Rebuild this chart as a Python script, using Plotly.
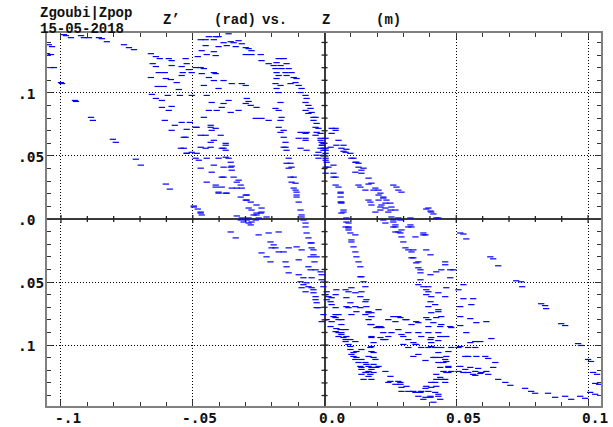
import numpy as np
import plotly.graph_objects as go

# ---- data: (Z [mm], Z' [mrad]) ----
outer_left = [(-104.6,138.2),(-103.4,136.7),(-105.3,131.1),(-103.8,130.4),(-103.8,120.1),(-102.7,120.1),(-100,108.2),(-99.6,107.4),(-98.9,146.2),(-98.1,145.4),(-96.2,143.8),(-92.4,145.4),(-91.3,143.8),(-89.4,143.8),(-85.6,143.8),(-84.5,143),(-82.6,140.6),(-76.1,138.2),(-74.2,135.9),(-72.3,134.3),(-65.9,131.1),(-64,128.8),(-62.5,127.2),(-59.1,127.2),(-58,125.6),(-94.7,94),(-94.3,93.2),(-88.6,80.6),(-87.9,78.2),(-80.3,63.2),(-79.2,60.8),(-71.6,47.4),(-69.7,42.7),(-60.2,27.7),(-58.7,23.7),(-49.6,10.3),(-48.1,7.9)]

upper_left_band = [(-65.2,123.2),(-64,120.9),(-62.9,116.1),(-60.6,116.1),(-58.3,110.6),(-60.2,111.4),(-65.9,112.2),(-63.3,105.1),(-61,105.1),(-56.1,108.2),(-55.3,102.7),(-54.2,120.9),(-53.8,116.1),(-54.2,113.8),(-52.3,123.2),(-51.5,118.5),(-50.4,116.1),(-48.9,120.1),(-48.1,128.8),(-52.7,127.2),(-58,121.7),(-65.5,98.8),(-64,95.6),(-61.7,94),(-59.5,98),(-54.9,98),(-50.4,98),(-58,89.3),(-59.1,86.1),(-61.7,88.5),(-60.6,78.2),(-56.8,74.3),(-58,70.3),(-54.2,76.6),(-52.3,71.1),(-51.1,76.6),(-53.4,64.8),(-48.9,72.7),(-54.5,56.1),(-52.3,52.1),(-50.4,52.9),(-48.9,48.2)]

top_arc = [(-43.9,144.6),(-41.3,144.6),(-40.2,144.6),(-36.4,146.9),(-47,142.2),(-45.1,142.2),(-42,142.2),(-38.3,139.8),(-35.6,140.6),(-34.5,139.8),(-32.6,141.4),(-31.4,139),(-45.1,137.5),(-40.2,136.7),(-37.1,137.5),(-33.7,136.7),(-29.9,135.9),(-28.8,135.1),(-27.7,133.5),(-46.6,133.5),(-42,132.7),(-44.7,130.4),(-41.3,129.6),(-29.9,130.4),(-27.7,130.4),(-24.2,130.4),(-23.9,125.6),(-21.2,123.2),(-17.4,127.2),(-15.5,127.2),(-18.2,124),(-19.3,121.7),(-16.7,121.7),(-14.4,123.2),(-18.6,119.3),(-16.3,119.3),(-13.6,119.3),(-18.2,116.1),(-14.8,116.1),(-12.5,116.1),(-17.4,113.8),(-14.4,113.8),(-11.7,112.2),(-10.6,111.4),(-18.2,111.4),(-18.6,107.4),(-16.7,105.9),(-12.9,107.4),(-11,108.2),(-18.2,103.5),(-17.4,100.3),(-9.8,105.9),(-8.7,103.5),(-9.1,100.3),(-7.2,98),(-6.8,95.6),(-7.2,92.4),(-6.1,90.1),(-5.3,87.7),(-4.9,84.5),(-3.4,80.6),(-4.2,78.2),(-3,75.8),(-2.3,71.9),(-1.5,67.9),(-1.5,64),(-1.1,60.8),(-0.8,58.5),(-0.4,54.5),(-1.5,56.1),(-3,50.6)]

upper_middle = [(-47,120.1),(-45.8,119.3),(-46.6,115.3),(-42,116.1),(-43.9,112.2),(-41.3,115.3),(-45.8,105.9),(-42,109.8),(-38.3,109.8),(-35.2,107.4),(-31.4,107.4),(-29.9,105.9),(-40.2,103.5),(-44.7,98),(-42.8,92.4),(-38.3,91.6),(-36.4,94),(-29.5,95.6),(-28.8,93.2),(-28,90.1),(-25.8,88.5),(-43.9,86.1),(-40.9,86.1),(-39,88.5),(-35.6,84.5),(-32.6,86.1),(-45.8,80.6),(-43.2,74.3),(-41.3,71.9),(-42.8,70.3),(-39.4,66.4),(-45.1,66.4),(-42,62.4),(-37.5,58.5),(-43.2,56.9),(-38.3,56.1),(-47,56.9),(-26.1,79.8),(-23.9,79.8),(-21.2,78.2),(-16.7,78.2),(-17.4,72.7),(-15.5,70.3),(-15.5,64.8),(-14.8,60.8),(-14.8,56.9),(-9.8,64),(-7.2,64),(-7.2,67.9),(-3.4,66.4),(-9.1,68.7),(-29.9,91.6),(-16.7,92.4),(-17.4,86.1),(-16.3,80.6),(-18.6,87.7),(-7.2,86.1),(-6.1,83.7),(-4.2,80.6)]

middle_left = [(-52.7,64.8),(-48.5,72.7),(-43.2,72.7),(-47,66.4),(-43.2,60.8),(-53.4,56.1),(-45.1,56.1),(-39,56.1),(-37.5,60),(-37.5,54.5),(-52.3,52.1),(-48.5,52.1),(-44.7,48.2),(-40.2,48.2),(-36.4,48.2),(-47.7,46.6),(-42,42.7),(-38.3,41.1),(-35.6,41.1),(-35.2,38.7),(-47,40.3),(-42.8,37.1),(-39,33.2),(-34.5,33.2),(-44.7,29.2),(-33.3,29.2),(-32.6,30.8),(-41.3,25.3),(-39,25.3),(-35.2,24.5),(-31.4,24.5),(-40.2,21.3),(-37.5,20.5),(-29.5,19),(-31.8,17.4),(-29.9,15),(-27.7,7.1),(-24.2,4.7),(-25,0.8),(-26.1,-0.8),(-29.5,-0.8),(-31.8,-0.8),(-33.3,2.4),(-49.6,9.5),(-47,4.7),(-46.6,3.2),(-37.5,49),(-35.6,45),(-35.2,41.9),(-38.3,33.2),(-31.8,26.9),(-33.3,24.5),(-41.3,26.9),(-40.2,20.5),(-37.1,20.5),(-29.9,19),(-29.5,15),(-28,13.4),(-28.8,8.7),(-25.8,11.1),(-23.9,8.7),(-25.8,3.2),(-27.7,-2.4),(-31.4,0.8),(-28.8,-3.2),(-47,5.5)]

steep_line = [(-14.4,44.2),(-13.6,40.3),(-12.9,33.2),(-12.5,29.2),(-11.7,24.5),(-10.6,21.3),(-10.6,17.4),(-9.8,13.4),(-9.1,7.1),(-8.7,1.6),(-7.2,-3.2),(-7.2,-6.3),(-16.7,68.7),(-15.5,56.9),(-14.4,54.5),(-13.6,48.2),(-12.9,44.2),(-12.5,41.1),(-11.7,33.2),(-11,28.4),(-11,22.9),(-10.6,19),(-8.7,3.2),(-8,-0.8),(-6.8,68.7),(-7.2,62.4),(-9.1,56.1),(-6.8,54.5),(-3.4,72.7),(-3,68.7),(-1.5,62.4),(-1.1,58.5),(-0.4,56.1),(-2.3,52.9),(-0.4,50.6)]

upper_right = [(4.2,71.9),(2.7,67.9),(5.3,62.4),(4.5,58.5),(6.4,56.1),(8,52.9),(9.8,52.1),(0.4,64),(0.4,56.1),(0.4,52.1),(-2.3,48.2),(0.4,46.6),(0.4,41.1),(0.4,36.3),(3.4,42.7),(4.2,33.2),(4.2,26.9),(5.3,25.3),(6.1,20.5),(6.4,12.6),(7.2,5.5),(8.3,-2.4),(8,-6.3),(11,48.2),(11.7,45),(12.9,44.2),(14,38.7),(16.7,32.4),(17.8,28.4),(19.3,24.5),(21.2,20.5),(22.3,16.6),(23.1,12.6),(25,7.1),(25.4,1.6),(26.1,26.9),(27.3,25.3),(12.9,26.9),(15.5,22.9),(16.7,15),(20.5,15),(21.6,11.1),(17.8,11.1),(19.3,5.5),(26.1,-2.4),(23.1,-3.2),(-0.4,60),(0.4,54.5),(0.4,48.2),(0.8,45),(1.5,41.1),(3.4,36.3),(3.4,33.2),(6.1,21.3),(6.1,17.4),(6.4,13.4),(7.2,7.1),(8.3,0.8),(9.1,-8.7),(2.7,71.9),(4.2,70.3),(7.2,58.5),(8.3,55.3),(7.2,53.7),(2.3,56.9),(10.2,48.2),(12.1,45),(12.9,41.1),(14.8,40.3),(11.7,37.1),(14,36.3),(13.6,25.3),(16.7,27.7),(18.6,22.9),(20.5,19),(22.3,17.4),(23.5,15),(25,12.6),(25.4,9.5),(26.9,7.1),(20.5,22.9),(17.4,13.4),(21.2,9.5),(23.1,8.7),(24.2,5.5),(26.1,-0.8),(28,0.8),(32.6,-4.7),(26.9,-4.7),(22.3,-0.8),(9.1,-3.2),(39.4,8.7),(40.5,5.5),(41.3,4),(42.4,0.8),(51.5,-11.1),(52.7,-11.9),(37.5,-11.1),(11.7,-12.6),(28.8,-11.1),(28,22.9),(29.2,21.3),(28.8,-0.8),(32.6,0.8),(33,-6.3),(43.2,0.8)]

lower_left = [(-30.7,-2.4),(-28.8,0.8),(-26.9,3.2),(-25.8,4.7),(-22,1.6),(-23.9,5.5),(-28,-4.7),(-35.6,-10.3),(-33.7,-15),(-25,-12.6),(-21.2,-11.1),(-17.4,-10.3),(-20.5,-18.2),(-19.3,-20.5),(-20.1,-22.9),(-18.6,-22.9),(-23.9,-26.9),(-22,-30),(-20.5,-34),(-17.4,-26.1),(-15.5,-26.1),(-13.6,-22.9),(-10.6,-22.1),(-14.8,-34),(-14.4,-37.9),(-13.6,-42.7),(-9.8,-32.4),(-8.7,-24.5),(-4.9,-19),(-4.2,-24.5),(-4.2,-28.4),(-5.3,-30),(-3.8,-34),(-6.1,-37.9),(-5.3,-40.3),(-3.4,-40.3),(-1.5,-41.9),(-9.8,-44.2),(-9.1,-49.8),(-6.8,-50.6),(-4.9,-54.5),(-4.2,-58.5),(-8.7,-54.5),(-7.2,-57.7),(-3.4,-64),(-3,-70.3),(-1.1,-48.2),(-0.4,-53.7),(-6.8,-11.1),(-6.1,-15),(-5.3,-19),(-4.9,-22.9),(-3,-30),(-1.1,-44.2),(-8,-46.6),(-4.9,-46.6),(-8,-52.1),(-6.1,-53.7),(-4.2,-56.1),(-3.4,-61.6),(-3,-66.4),(-2.3,-70.3),(-0.4,-75.8),(-1.1,-81.4)]

lower_center = [(0.4,-60),(0.8,-64),(2.3,-65.6),(4.2,-60),(2.7,-62.4),(4.2,-75.8),(5.3,-79.8),(6.4,-83.7),(8,-87.7),(8.3,-93.2),(9.1,-99.5),(9.8,-103.5),(11,-105.9),(12.1,-109.8),(14,-111.4),(15.5,-113.8),(16.7,-116.9),(17.8,-119.3),(15.9,-121.7),(17.4,-123.2),(17.8,-127.2),(14,-117.7),(8,-95.6),(6.4,-90.1),(2.3,-85.3),(2.7,-81.4),(4.2,-89.3),(5.3,-93.2),(6.4,4.7),(9.1,-7.1),(9.8,-11.1),(10.2,-18.2),(11,-22.1),(11.7,-26.1),(12.1,-30),(12.9,-34),(13.6,-37.9),(14,-45.8),(14.8,-49.8),(15.5,-53.7),(15.9,-64),(15.9,-69.5),(16.7,-74.3),(17.4,-83.7),(17.8,-93.2),(17.8,-101.1),(18.6,-105.9),(19.3,-111.4),(20.5,-71.9),(21.2,-85.3),(22.3,-90.1),(24.2,-93.2),(26.1,-77.4),(26.9,-81.4),(25,-128.8),(26.9,-131.1),(4.5,-56.1),(8,-56.1),(8.3,-62.4),(9.8,-66.4),(11.7,-69.5),(9.1,-70.3),(9.8,-95.6),(11.7,-97.2),(12.1,-73.5),(15.5,-75.8),(19.7,-86.1),(6.1,13.4),(21.2,7.1),(26.9,-6.3),(26.9,-10.3),(0.8,-57.7),(1.5,-61.6),(2.7,-67.9),(4.2,-70.3),(5.3,-75.8),(4.2,-78.2),(6.4,-79.8),(9.1,-57.7),(10.2,-54.5),(11.7,-58.5),(14,-57.7),(13.6,-61.6),(15.5,-65.6),(16.7,-73.5),(17.8,-74.3),(8.3,-69.5),(10.2,-75.8),(13.6,-70.3),(9.1,-6.3),(10.2,-16.6),(13.6,-45.8)]

right_band = [(26.1,-6.3),(28,-10.3),(29.2,-14.2),(29.9,-18.2),(30.7,-22.9),(31.8,-24.5),(33,-26.1),(33.7,-30.8),(34.8,-34.8),(35.6,-38.7),(36.4,-42.7),(36.4,-48.2),(37.5,-12.6),(38.6,-24.5),(40.2,-28.4),(35.6,-52.1),(37.5,-53.7),(38.6,-56.1),(38.6,-60),(40.5,-61.6),(40.2,-65.6),(39.4,-69.5),(42,-67.9),(43.2,-73.5),(45.8,-61.6),(45.8,-36.3),(47.7,-40.3),(48.9,-40.3),(34.5,-14.2),(31.8,-6.3),(38.6,7.9),(40.2,6.3),(53.8,-15.8),(29.2,-8.7),(33.7,-24.5),(38.3,-12.6),(33,-30.8),(35.6,-34),(36.4,-40.3),(42.4,-41.9),(44.3,-40.3),(45.8,-34),(47.7,-46.6),(40.2,-44.2),(39.4,-53.7),(39.4,-57.7),(43.2,-58.5),(46.2,-54.5),(50.8,-56.1),(52.7,-52.1),(43.2,-71.9),(40.5,-74.3),(38.6,-78.2),(42.4,-78.2),(44.3,-77.4),(47.7,-85.3),(44.3,-83.7),(41.3,-82.2),(39.4,-85.3),(35.6,-82.2),(33,-83.7),(28.8,-78.2),(30.7,-79.8),(29.9,-93.2),(31.8,-95.6),(35.6,-90.1),(36.7,-93.2),(40.2,-95.6),(43.9,-93.2),(46.2,-93.2),(33.7,-98),(34.8,-99.5),(40.5,-101.1),(44.3,-101.9),(47,-105.1),(43.2,-105.9),(46.2,-109),(42,-109.8),(43.2,-113.8),(46.2,-113),(47,-116.9),(43.9,-117.7),(45.1,-120.9),(47,-121.7),(48.1,-120.9),(42.4,-123.2),(44.3,-127.2),(45.8,-129.6),(40.5,-129.6),(38.6,-132.7),(40.5,-133.5),(42,-137.5),(43.2,-140.6),(40.2,-140.6),(36.7,-136.7),(34.5,-137.5),(31.8,-136.7),(29.2,-133.5),(28.8,-129.6),(37.5,-143),(35.6,-140.6),(43.9,-143),(51.5,-69.5),(55.3,-79),(57.6,-82.2),(61.4,-81.4),(51.5,-84.5),(53.8,-90.1),(57.2,-97.2),(59.1,-97.2),(55.3,-98),(51.5,-101.1),(63.3,-94.8),(54.5,-109),(57.6,-109),(61,-109),(62.1,-110.6),(64.8,-113.8),(64,-117.7),(55.3,-117.7),(58.3,-118.5),(56.4,-123.2),(59.1,-122.5),(61.4,-120.9),(52.7,-63.2),(56.4,-63.2),(55.7,-67.9)]

bottom_dense = [(0.8,-79.8),(3.4,-77.4),(4.5,-86.9),(6.1,-87.7),(5.3,-90.1),(6.4,-91.6),(7.2,-94),(8,-97.2),(9.8,-101.1),(10.2,-107.4),(11,-109),(11.7,-111.4),(12.9,-113.8),(13.6,-116.9),(14,-119.3),(15.5,-121.7),(16.7,-124.8),(17.8,-117.7),(18.6,-115.3),(19.7,-117.7),(20.5,-116.9),(15.9,-115.3),(16.7,-120.9),(14,-123.2),(14.8,-127.2),(18.6,-121.7),(18.6,-109.8),(16.7,-109),(17.8,-105.1),(14,-103.5),(12.1,-105.1),(17.4,-101.9),(18.6,-98),(17.8,-94),(21.2,-94),(23.1,-95.6),(23.1,-120.9),(25,-124.8),(24.2,-129.6),(28,-128.8),(28.8,-131.1),(31.1,-132.7),(29.2,-136.7),(33.7,-136.7),(36.4,-137.5),(38.3,-134.3),(39.4,-136.7),(42.4,-132.7),(43.2,-139),(40.2,-141.4),(38.3,-141.4),(41.3,-145.3),(42,-129.6),(42.4,-127.2),(43.9,-125.6),(45.8,-127.2),(46.2,-121.7),(47,-117.7),(45.1,-113.8),(45.8,-111.4),(43.9,-109.8),(41.3,-109.8),(38.3,-112.2),(35.6,-107.4),(33.7,-109),(31.8,-101.9),(29.9,-99.5),(34.5,-99.5),(36.7,-101.9),(39.4,-101.9),(42,-101.9),(48.1,-101.9),(40.5,-98),(43.2,-96.4),(40.5,-94),(43.2,-90.1),(39.4,-90.1),(31.8,-90.1),(29.2,-91.6),(28,-87.7),(25.4,-90.1),(22.3,-95.6),(20.5,-85.3),(21.6,-86.1),(17.8,-83.7),(16.7,-79.8),(17.8,-77.4),(24.2,-79.8),(28,-77.4),(31.1,-79.8),(34.8,-81.4),(39.4,-79.8),(43.9,-85.3),(48.1,-86.1),(51.5,-77.4),(50.8,-101.9),(54.5,-101.9),(57.2,-101.9),(53.4,-109),(57.2,-120.9),(52.7,-121.7)]

outer_right = [(62.9,-30),(64,-31.6),(65.9,-37.1),(72.7,-49),(74.6,-49.8),(75,-53.7),(82.2,-67.2),(83.7,-68.7),(84.1,-71.1),(89.8,-83),(91.3,-84.5),(96.2,-98.8),(97.3,-100.3),(100,-111.4),(101.1,-113),(101.9,-121.7),(103.4,-123.2),(102.7,-130.4),(104.2,-131.1),(100.8,-137.5),(102.7,-139),(65.9,-127.2),(68.6,-129.6),(70.5,-131.9),(76.1,-134.3),(78.4,-136.7),(79.9,-138.2),(84.8,-138.2),(87.5,-141.4),(91.3,-140.6),(93.6,-143),(97,-140.6),(98.9,-142.2),(59.5,-121.7),(62.1,-123.2),(57.2,-124),(54.5,-121.7),(53.4,-119.3),(51.5,-116.9),(50.8,-120.9)]

x_tick_vals = [-0.1, -0.05, 0.0, 0.05, 0.1]
x_tick_text = ["-.1", "-.05", "0.0", "0.05", "0.1"]
y_tick_vals = [0.1, 0.05, 0.0, -0.05, -0.1]
y_tick_text = [".1", ".05", ".0", ".05", ".1"]

groups = [outer_left, upper_left_band, top_arc, upper_middle, middle_left, steep_line,
          upper_right, lower_left, lower_center, right_band, bottom_dense, outer_right]
pts = [p for g in groups for p in g]
z = np.array([p[0] for p in pts]) / 1000.0   # m
zp = np.array([p[1] for p in pts]) / 1000.0  # rad

W, H = 613, 427
ML, MR, MT, MB = 47, 10, 33, 21
PW, PH = W - ML - MR, H - MT - MB

def px(xp):
    return (xp - ML) / PW

def py(yp):
    return (H - MB - yp) / PH

fig = go.Figure()
fig.add_trace(go.Scatter(
    x=z, y=zp, mode="markers",
    marker=dict(symbol="line-ew", size=4.5, line=dict(width=1.2, color="#0000ff")),
    hoverinfo="skip", showlegend=False))

axis_common = dict(
    showgrid=True, gridcolor="#000000", gridwidth=1, griddash="1px,2px",
    zeroline=True, zerolinecolor="#3a3a3a", zerolinewidth=2,
    showline=True, linecolor="#808080", linewidth=2, mirror="allticks",
    ticks="inside", ticklen=6, tickcolor="#333333", tickwidth=1,
    tickmode="linear", tick0=0, dtick=0.05, showticklabels=False,
    minor=dict(ticks="inside", ticklen=4, tickcolor="#333333", tickwidth=1,
               dtick=0.01, tick0=0, showgrid=False),
    fixedrange=True,
)

fig.update_layout(
    width=W, height=H,
    margin=dict(l=ML, r=MR, t=MT, b=MB, pad=0),
    paper_bgcolor="white", plot_bgcolor="white",
    xaxis=dict(range=[-0.1053, 0.1049], **axis_common),
    yaxis=dict(range=[-0.1483, 0.1475], **axis_common),
    hovermode=False,
)

# ticks crossing the zero lines
shapes = []
for i in range(-10, 11):
    if i == 0:
        continue
    t = i * 0.01
    half = 4 if i % 5 == 0 else 3
    shapes.append(dict(type="line", xref="x", yref="y", ysizemode="pixel", yanchor=0,
                       x0=t, x1=t, y0=-half, y1=half,
                       line=dict(color="#222222", width=1.3), layer="above"))
for i in range(-14, 15):
    if i == 0:
        continue
    t = i * 0.01
    half = 4 if i % 5 == 0 else 3
    shapes.append(dict(type="line", xref="x", yref="y", xsizemode="pixel", xanchor=0,
                       y0=t, y1=t, x0=-half, x1=half,
                       line=dict(color="#222222", width=1.3), layer="above"))
fig.update_layout(shapes=shapes)

tick_font = dict(family="DejaVu Sans Mono", size=14.5, color="#111111")
ann = []
for v, s in zip(x_tick_vals, x_tick_text):
    ann.append(dict(x=v, y=0, xref="x", yref="paper", text="<b>%s</b>" % s,
                    showarrow=False, xanchor="center", yanchor="middle", borderpad=0,
                    xshift=7, yshift=-12, font=tick_font))
for v, s in zip(y_tick_vals, y_tick_text):
    ann.append(dict(x=px(17), y=v, xref="paper", yref="y", text="<b>%s</b>" % s,
                    showarrow=False, xanchor="left", yanchor="middle", borderpad=0,
                    yshift=-1, font=tick_font))

title_font = dict(family="Liberation Mono, Courier New, monospace", size=14, color="#111111")
ann.append(dict(x=px(39), y=py(12.5), xref="paper", yref="paper", text="<b>Zgoubi|Zpop</b>",
                showarrow=False, xanchor="left", yanchor="middle", borderpad=0, font=title_font))
ann.append(dict(x=px(39), y=py(28.5), xref="paper", yref="paper", text="<b>15-05-2018</b>",
                showarrow=False, xanchor="left", yanchor="middle", borderpad=0, font=title_font))
for txt, xp in [("Z\u2019", 162), ("(rad)", 214), ("vs.", 262), ("Z", 322), ("(m)", 376)]:
    ann.append(dict(x=px(xp), y=py(20), xref="paper", yref="paper", text="<b>%s</b>" % txt,
                    showarrow=False, xanchor="left", yanchor="middle", borderpad=0, font=title_font))
fig.update_layout(annotations=ann)

fig.write_html("out.html")
